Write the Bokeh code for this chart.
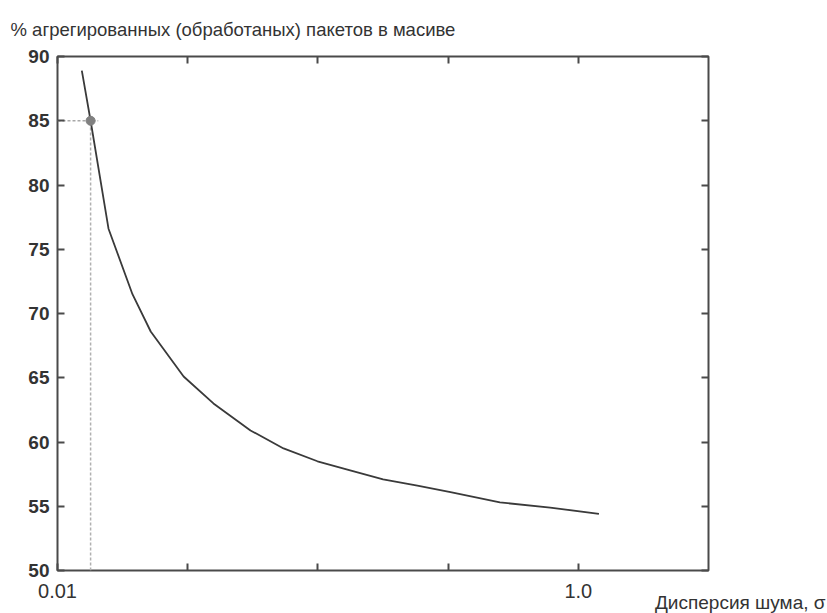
from bokeh.plotting import figure
from bokeh.models import FixedTicker, LinearAxis, LogAxis, Title, CustomJSTickFormatter
from bokeh.embed import file_html
from bokeh.resources import INLINE

# ---- data ----
sigma = [0.0124, 0.0134, 0.0157, 0.0194, 0.0228, 0.0305, 0.0397, 0.0551, 0.0738,
         0.0996, 0.133, 0.178, 0.241, 0.323, 0.50, 0.78, 1.2]
pct = [88.9, 85.0, 76.6, 71.5, 68.6, 65.1, 63.0, 60.9, 59.5,
       58.5, 57.8, 57.1, 56.6, 56.1, 55.3, 54.9, 54.4]

mark_sigma = 0.0134
mark_pct = 85.0

y_ticks = [50, 55, 60, 65, 70, 75, 80, 85, 90]
x_minor_ticks = [0.0316, 0.1, 0.316]
x_label_vals = [0.01, 1.0]
x_label_text = ["0.01", "1.0"]

title_text = "% агрегированных (обработаных) пакетов в масиве"
xlabel_text = "Дисперсия шума, σ"

X_MIN, X_MAX = 0.01, 3.162
Y_MIN, Y_MAX = 50, 90

FRAME = "#4a4a4a"
TXT = "#333333"

p = figure(width=827, height=613, x_axis_type="log",
           x_range=(X_MIN, X_MAX), y_range=(Y_MIN, Y_MAX),
           output_backend="svg", toolbar_location=None,
           min_border_left=57, min_border_top=55,
           min_border_right=119, min_border_bottom=43)
p.grid.visible = False
p.outline_line_color = FRAME
p.outline_line_width = 2
p.background_fill_color = "white"
p.border_fill_color = "white"

blank = CustomJSTickFormatter(code="return ''")


def style_ticks(ax):
    ax.axis_line_color = None
    ax.major_tick_in = 7
    ax.major_tick_out = 0
    ax.major_tick_line_color = FRAME
    ax.major_tick_line_width = 2
    ax.minor_tick_in = 7
    ax.minor_tick_out = 0
    ax.minor_tick_line_color = FRAME
    ax.minor_tick_line_width = 2


# left axis with labels
ya = p.yaxis[0]
ya.ticker = FixedTicker(ticks=y_ticks)
style_ticks(ya)
ya.minor_tick_line_color = None
ya.major_label_text_font = "Liberation Sans"
ya.major_label_text_font_style = "bold"
ya.major_label_text_font_size = "19px"
ya.major_label_text_color = TXT
ya.major_label_standoff = 8

# bottom axis: labels at 0.01 and 1.0, inner ticks at half decades
xa = p.xaxis[0]
xa.ticker = FixedTicker(ticks=x_label_vals, minor_ticks=x_minor_ticks)
style_ticks(xa)
xa.major_label_overrides = dict(zip(x_label_vals, x_label_text))
xa.major_label_text_font = "Liberation Sans"
xa.major_label_text_font_size = "20px"
xa.major_label_text_color = TXT
xa.major_label_standoff = 13

# top and right axes (ticks only)
top = LogAxis(ticker=FixedTicker(ticks=x_label_vals, minor_ticks=x_minor_ticks),
              formatter=blank, major_label_standoff=0)
style_ticks(top)
p.add_layout(top, "above")
right = LinearAxis(ticker=FixedTicker(ticks=y_ticks), formatter=blank,
                   major_label_standoff=0)
style_ticks(right)
right.minor_tick_line_color = None
p.add_layout(right, "right")

# titles (outside the frame)
p.add_layout(Title(text=title_text, align="left", offset=-47, standoff=33,
                   text_font="Liberation Sans", text_font_size="18.5px",
                   text_font_style="normal", text_color=TXT), "above")
p.add_layout(Title(text=xlabel_text, align="right", offset=-117, standoff=-22,
                   text_font="Liberation Sans", text_font_size="19px",
                   text_font_style="normal", text_color=TXT), "below")

# guide lines to the highlighted point
p.line([mark_sigma, mark_sigma], [Y_MIN, mark_pct], line_color="#b0b0b0",
       line_width=1.5, line_dash="3 2")
p.line([X_MIN, mark_sigma * 1.07], [mark_pct, mark_pct], line_color="#a8a8a8",
       line_width=1.5, line_dash="3 2")

# main curve
p.line(sigma, pct, line_color="#3a3a3a", line_width=1.8)

# highlighted point
p.scatter([mark_sigma], [mark_pct], size=9, fill_color="#808080",
          line_color="#808080")

open("out.html", "w").write(file_html(p, INLINE))
